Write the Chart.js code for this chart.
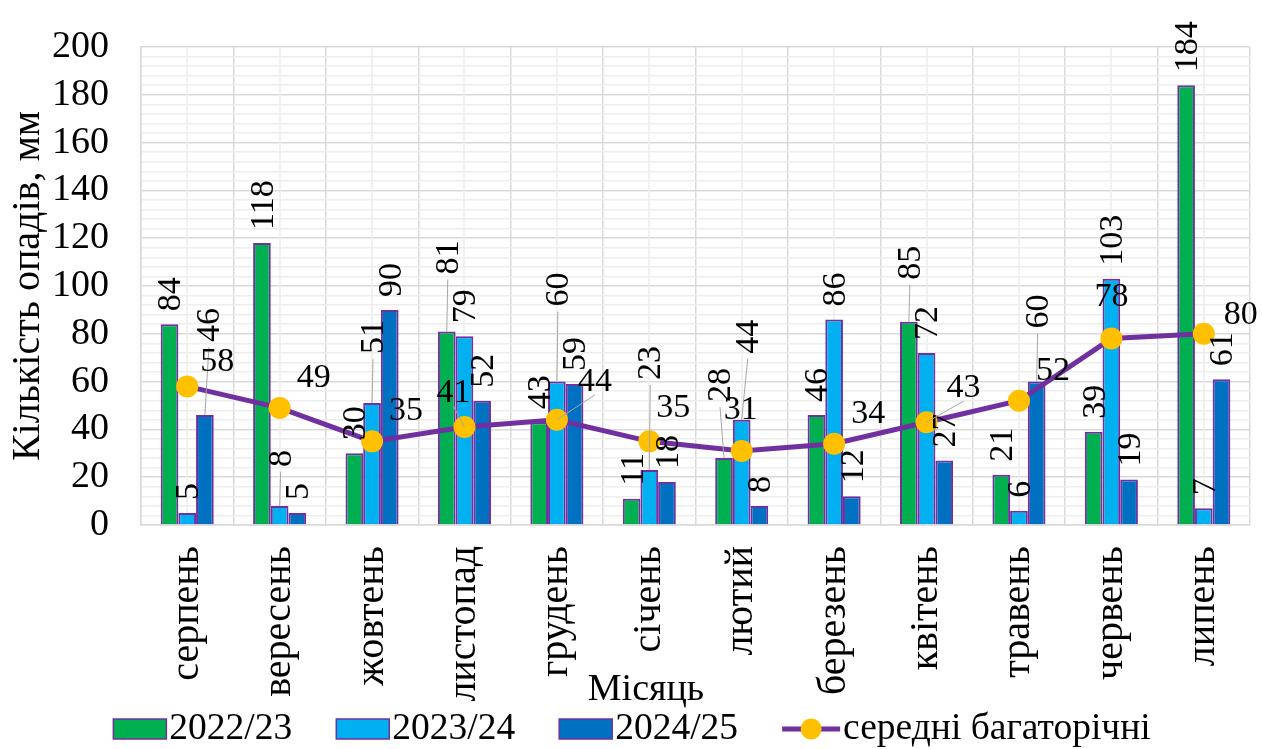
<!DOCTYPE html>
<html>
<head>
<meta charset="utf-8">
<script src="https://cdn.jsdelivr.net/npm/chart.js@4.4.1/dist/chart.umd.min.js"></script>
<style>
  html, body { margin: 0; padding: 0; background: #fff; }
  #wrap { width: 1262px; height: 749px; }
</style>
</head>
<body>
<div id="wrap"><canvas id="rainChart" width="1262" height="749"></canvas></div>
<script>
const months = ["серпень", "вересень", "жовтень", "листопад", "грудень", "січень",
  "лютий", "березень", "квітень", "травень", "червень", "липень"];
const season2223 = [84, 118, 30, 81, 43, 11, 28, 46, 85, 21, 39, 184];
const season2324 = [5, 8, 51, 79, 60, 23, 44, 86, 72, 6, 103, 7];
const season2425 = [46, 5, 90, 52, 59, 18, 8, 12, 27, 60, 19, 61];
const longTermAvg = [58, 49, 35, 41, 44, 35, 31, 34, 43, 52, 78, 80];
const seriesNames = ["2022/23", "2023/24", "2024/25", "середні багаторічні"];
const yMin = 0, yMax = 200, yMajor = 20, yMinor = 4;

const FONT = "'Liberation Serif', 'Times New Roman', serif";
const PURPLE = "#7030A0";

// labels that were dragged away from their bars in the original: [dx, dy]
const barLabelShift = {
  "0-3": [0, -44], "0-6": [-5, -43], "0-8": [0, -29],
  "1-1": [0, -26], "1-2": [0, -36], "1-4": [0, -62], "1-5": [0, -77], "1-6": [5, -53],
  "2-0": [3, -60], "2-9": [0, -40]
};
// same for the average line labels: [dx, dy, leader line]
const lineLabelShift = {
  0: [-4, 6], 3: [-45, -4, true], 4: [4, -8, true], 5: [-10, -3],
  6: [-35, -11], 8: [3, -4, true], 10: [-34, -12], 11: [3, 11]
};

const minorGrid = {
  id: "minorGrid",
  beforeDatasetsDraw(chart) {
    const { ctx, chartArea, scales } = chart;
    ctx.save();
    ctx.strokeStyle = "#EDEDED";
    ctx.lineWidth = 1.5;
    months.forEach((m, i) => {
      const x = Math.round(scales.x.getPixelForValue(i));
      ctx.beginPath();
      ctx.moveTo(x, chartArea.top);
      ctx.lineTo(x, chartArea.bottom);
      ctx.stroke();
    });
    ctx.restore();
  }
};

const valueLabels = {
  id: "valueLabels",
  afterDatasetsDraw(chart) {
    const ctx = chart.ctx;
    ctx.save();
    ctx.font = "34px " + FONT;
    ctx.fillStyle = "#000";
    ctx.strokeStyle = "#A6A6A6";
    ctx.lineWidth = 1;

    // bar labels, rotated
    for (let d = 0; d < 3; d++) {
      const meta = chart.getDatasetMeta(d);
      const values = chart.data.datasets[d].data;
      meta.data.forEach((bar, i) => {
        const shift = barLabelShift[d + "-" + i] || [0, 0];
        const lx = bar.x + 2 + shift[0];
        const ly = bar.y - 13 + shift[1];
        if (barLabelShift[d + "-" + i]) {
          ctx.beginPath();
          ctx.moveTo(lx - 1, ly + 5);
          ctx.lineTo(bar.x, bar.y);
          ctx.stroke();
        }
        ctx.save();
        ctx.translate(lx, ly);
        ctx.rotate(-Math.PI / 2);
        ctx.textAlign = "left";
        ctx.textBaseline = "middle";
        ctx.fillText(String(values[i]), 0, 0);
        ctx.restore();
      });
    }

    // average line labels
    const lineMeta = chart.getDatasetMeta(3);
    lineMeta.data.forEach((pt, i) => {
      const shift = lineLabelShift[i] || [0, 0];
      const lx = pt.x + 17 + shift[0];
      const ly = pt.y - 30 + shift[1];
      const txt = String(longTermAvg[i]);
      const w = ctx.measureText(txt).width;
      if (shift[2]) {
        ctx.beginPath();
        ctx.moveTo(pt.x, pt.y);
        ctx.lineTo(lx + w / 2, ly + 13);
        ctx.stroke();
      }
      ctx.textAlign = "left";
      ctx.textBaseline = "middle";
      ctx.fillText(txt, lx, ly);
    });
    ctx.restore();
  }
};

const bottomTexts = {
  id: "bottomTexts",
  afterDraw(chart) {
    const ctx = chart.ctx;
    ctx.save();
    ctx.fillStyle = "#000";
    ctx.textBaseline = "middle";

    // x axis title
    ctx.font = "38px " + FONT;
    ctx.textAlign = "center";
    ctx.fillText("Місяць", 646, 690);

    // legend
    ctx.font = "37.5px " + FONT;
    ctx.textAlign = "left";
    const ds = chart.data.datasets;
    const gapText = 3, gapItem = 44, cy = 729;
    const keyW = ds.map(d => (d.type === "line" ? 58 : 53));
    const widths = ds.map((d, i) => keyW[i] + gapText + ctx.measureText(d.label).width);
    const total = widths.reduce((a, b) => a + b, 0) + gapItem * (ds.length - 1);
    let x = 632 - total / 2;
    ds.forEach((d, i) => {
      const w = keyW[i];
      if (d.type === "line") {
        ctx.strokeStyle = PURPLE;
        ctx.lineWidth = 5;
        ctx.beginPath();
        ctx.moveTo(x, cy);
        ctx.lineTo(x + w, cy);
        ctx.stroke();
        ctx.fillStyle = "#FFC000";
        ctx.beginPath();
        ctx.arc(x + w / 2, cy, 10.5, 0, Math.PI * 2);
        ctx.fill();
      } else {
        ctx.fillStyle = d.backgroundColor;
        ctx.fillRect(x, cy - 10, w, 20);
        ctx.strokeStyle = PURPLE;
        ctx.lineWidth = 1.5;
        ctx.strokeRect(x, cy - 10, w, 20);
      }
      ctx.fillStyle = "#000";
      ctx.fillText(d.label, x + w + gapText, cy);
      x += widths[i] + gapItem;
    });
    ctx.restore();
  }
};

function barSet(label, data, color) {
  return {
    type: "bar",
    label: label,
    data: data,
    backgroundColor: color,
    borderColor: PURPLE,
    borderWidth: 2,
    categoryPercentage: 0.574,
    barPercentage: 1.0,
    order: 1
  };
}

const ctx = document.getElementById("rainChart").getContext("2d");
new Chart(ctx, {
  data: {
    labels: months,
    datasets: [
      barSet(seriesNames[0], season2223, "#00B050"),
      barSet(seriesNames[1], season2324, "#00B0F0"),
      barSet(seriesNames[2], season2425, "#0070C0"),
      {
        type: "line",
        label: seriesNames[3],
        data: longTermAvg,
        borderColor: PURPLE,
        borderWidth: 5,
        pointRadius: 11,
        pointHoverRadius: 11,
        pointBackgroundColor: "#FFC000",
        pointBorderColor: "#FFC000",
        pointBorderWidth: 0,
        tension: 0,
        order: 0
      }
    ]
  },
  options: {
    responsive: false,
    animation: false,
    devicePixelRatio: 1,
    layout: { padding: { top: 47, right: 12, left: 0, bottom: 0 } },
    plugins: {
      legend: { display: false },
      tooltip: { enabled: false }
    },
    scales: {
      x: {
        offset: true,
        grid: { offset: true, color: "#D9D9D9", lineWidth: 1.5, drawTicks: false },
        border: { color: "#D9D9D9", width: 1.5 },
        ticks: {
          font: { family: FONT, size: 40 },
          color: "#000",
          minRotation: 90,
          maxRotation: 90,
          autoSkip: false,
          padding: 21
        },
        afterFit(scale) {
          scale.height = 224;
          scale.paddingLeft = 0;
          scale.paddingRight = 0;
        }
      },
      y: {
        min: yMin,
        max: yMax,
        grid: {
          drawTicks: false,
          lineWidth: 1.5,
          color: c => (c.tick && c.tick.value % yMajor === 0) ? "#D9D9D9" : "#EDEDED"
        },
        border: { color: "#D9D9D9", width: 1.5 },
        ticks: {
          stepSize: yMinor,
          autoSkip: false,
          padding: 32,
          color: "#000",
          font: { family: FONT, size: 38 },
          callback: v => (v % yMajor === 0 ? v : "")
        },
        title: {
          display: true,
          text: "Кількість опадів, мм",
          color: "#000",
          font: { family: FONT, size: 40 },
          padding: { top: 4, bottom: 0 }
        },
        afterFit(scale) {
          scale.width = 141;
          scale.paddingTop = 0;
          scale.paddingBottom = 0;
        }
      }
    }
  },
  plugins: [minorGrid, valueLabels, bottomTexts]
});
</script>
</body>
</html>
